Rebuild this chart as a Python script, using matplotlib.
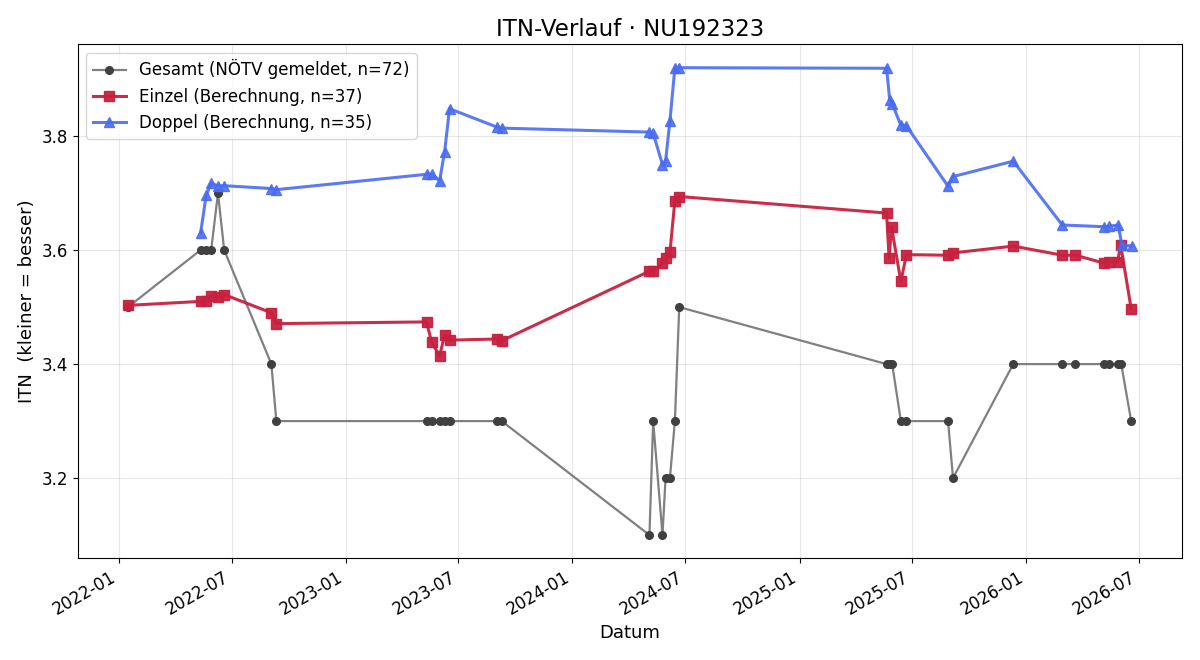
import matplotlib

matplotlib.use("Agg")
import matplotlib.dates as mdates
import matplotlib.pyplot as plt
import numpy as np
import pandas as pd

# Turniertage (Einzel); Doppel spielt meist an denselben Tagen
EINZEL_DATES = [
    "2022-01-15", "2022-05-12", "2022-05-21", "2022-05-29", "2022-06-09",
    "2022-06-19", "2022-09-03", "2022-09-11", "2023-05-11", "2023-05-19",
    "2023-06-01", "2023-06-09", "2023-06-17", "2023-09-01", "2023-09-09",
    "2024-05-04", "2024-05-10", "2024-05-25", "2024-05-30", "2024-06-06",
    "2024-06-14", "2024-06-21", "2025-05-21", "2025-05-25", "2025-05-29",
    "2025-06-13", "2025-06-22", "2025-08-28", "2025-09-05", "2025-12-11",
    "2026-02-28", "2026-03-21", "2026-05-07", "2026-05-15", "2026-05-28",
    "2026-06-02", "2026-06-19",
]
EINZEL_ITN = [
    3.503, 3.510, 3.511, 3.520, 3.518,
    3.522, 3.490, 3.471, 3.474, 3.439,
    3.414, 3.451, 3.442, 3.444, 3.441,
    3.563, 3.563, 3.577, 3.586, 3.596,
    3.687, 3.694, 3.665, 3.586, 3.640,
    3.545, 3.592, 3.591, 3.595, 3.607,
    3.591, 3.591, 3.577, 3.579, 3.579,
    3.609, 3.497,
]

DOPPEL_DATES = [
    "2022-05-12", "2022-05-21", "2022-05-29", "2022-06-09", "2022-06-19",
    "2022-09-03", "2022-09-11", "2023-05-11", "2023-05-19", "2023-06-01",
    "2023-06-09", "2023-06-17", "2023-09-01", "2023-09-09", "2024-05-04",
    "2024-05-10", "2024-05-25", "2024-05-30", "2024-06-06", "2024-06-14",
    "2024-06-21", "2025-05-21", "2025-05-26", "2025-05-30", "2025-06-13",
    "2025-06-22", "2025-08-28", "2025-09-05", "2025-12-11", "2026-02-28",
    "2026-05-07", "2026-05-15", "2026-05-29", "2026-06-04", "2026-06-20",
]
DOPPEL_ITN = [
    3.630, 3.696, 3.717, 3.713, 3.713,
    3.708, 3.706, 3.733, 3.733, 3.722,
    3.772, 3.848, 3.816, 3.814, 3.807,
    3.805, 3.750, 3.756, 3.827, 3.920,
    3.920, 3.919, 3.864, 3.857, 3.819,
    3.818, 3.712, 3.729, 3.756, 3.644,
    3.641, 3.642, 3.644, 3.609, 3.607,
]

# gemeldete Gesamt-ITN (NÖTV, auf 0.1 gerundet) je Turniertag
GESAMT_DATES = [
    "2022-01-15", "2022-05-12", "2022-05-21", "2022-05-29", "2022-06-09",
    "2022-06-19", "2022-09-03", "2022-09-11", "2023-05-11", "2023-05-19",
    "2023-06-01", "2023-06-09", "2023-06-17", "2023-09-01", "2023-09-09",
    "2024-05-04", "2024-05-10", "2024-05-25", "2024-05-30", "2024-06-06",
    "2024-06-14", "2024-06-21", "2025-05-21", "2025-05-26", "2025-05-30",
    "2025-06-13", "2025-06-22", "2025-08-28", "2025-09-05", "2025-12-11",
    "2026-02-28", "2026-03-21", "2026-05-07", "2026-05-15", "2026-05-28",
    "2026-06-03", "2026-06-19",
]
GESAMT_ITN = [
    3.5, 3.6, 3.6, 3.6, 3.7,
    3.6, 3.4, 3.3, 3.3, 3.3,
    3.3, 3.3, 3.3, 3.3, 3.3,
    3.1, 3.3, 3.1, 3.2, 3.2,
    3.3, 3.5, 3.4, 3.4, 3.4,
    3.3, 3.3, 3.3, 3.2, 3.4,
    3.4, 3.4, 3.4, 3.4, 3.4,
    3.4, 3.3,
]
N_GESAMT = len(EINZEL_ITN) + len(DOPPEL_ITN)

ges_x = pd.to_datetime(GESAMT_DATES)
ein_x = pd.to_datetime(EINZEL_DATES)
dop_x = pd.to_datetime(DOPPEL_DATES)

plt.rcParams["font.size"] = 12
plt.rcParams["axes.labelsize"] = 13

fig, ax = plt.subplots(figsize=(12, 6.6), dpi=100)

ax.plot(ges_x, GESAMT_ITN, "-o", color="0.5", mfc="0.25", mec="0.25",
        ms=5.5, lw=1.6, label=f"Gesamt (NÖTV gemeldet, n={N_GESAMT})")
ax.plot(ein_x, EINZEL_ITN, "-s", color="#c8203f", ms=7, lw=2.2, alpha=0.95,
        label=f"Einzel (Berechnung, n={len(EINZEL_ITN)})")
ax.plot(dop_x, DOPPEL_ITN, "-^", color="#4a6cf0", ms=7, lw=2.2, alpha=0.9,
        label=f"Doppel (Berechnung, n={len(DOPPEL_ITN)})")

ax.xaxis.set_major_locator(mdates.MonthLocator(bymonth=[1, 7]))
ax.xaxis.set_major_formatter(mdates.DateFormatter("%Y-%m"))
ax.set_xlabel("Datum")
ax.set_ylabel("ITN  (kleiner = besser)")
ax.set_title("ITN-Verlauf · NU192323", fontsize=16.5)
ax.grid(True, alpha=0.3)
ax.legend(loc="upper left", fontsize=12)
fig.autofmt_xdate()
fig.tight_layout()
fig.savefig("out.png", dpi=100)
